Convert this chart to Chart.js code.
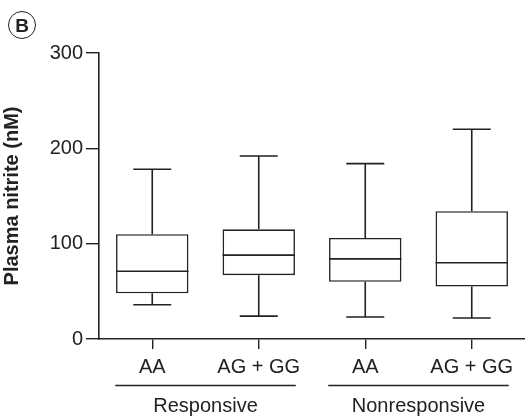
<!DOCTYPE html>
<html>
<head>
<meta charset="utf-8">
<script src="https://cdn.jsdelivr.net/npm/chart.js@4.4.0/dist/chart.umd.min.js"></script>
<style>
body { margin: 0; background: #fff; }
#wrap { position: relative; width: 525px; height: 418px; }
#panel {
    position: absolute; left: 8px; top: 11px; width: 26px; height: 26px;
    border: 1.8px solid #222; border-radius: 50%;
    font: bold 19px "Liberation Sans", Arial, sans-serif; color: #222;
    text-align: center; line-height: 27px;
}
</style>
</head>
<body>
<div id="wrap">
<canvas id="box-canvas" width="525" height="418"></canvas>
<div id="panel">B</div>
</div>
<script>
// values (nM)
var categories = ['AA', 'AG + GG', 'AA', 'AG + GG'];
var groups = ['Responsive', 'Nonresponsive'];
var groupMembers = [[0, 1], [2, 3]];
var whiskerLow = [36, 24, 23, 22];
var q1 = [48, 67, 60, 55];
var median = [71, 88, 84, 80];
var q3 = [110, 115, 106, 134];
var whiskerHigh = [178, 192, 184, 220];
var yTicks = [0, 100, 200, 300];

var ink = '#222';
var fontFam = '"Liberation Sans", Arial, sans-serif';

//whiskers + median on top of the floating bars
var whiskerPlugin = {
    id: 'whiskers',
    afterDatasetsDraw: function (chart) {
        var ctx = chart.ctx;
        var xs = chart.scales.x, ys = chart.scales.y;
        var meta = chart.getDatasetMeta(0);
        ctx.save();
        ctx.strokeStyle = ink;
        ctx.lineWidth = 1.6;
        for (var i = 0; i < categories.length; i++) {
            var x = xs.getPixelForValue(i);
            var half = meta.data[i].width / 2;
            var cap = 19;
            ctx.beginPath();
            ctx.moveTo(x, ys.getPixelForValue(q3[i]));
            ctx.lineTo(x, ys.getPixelForValue(whiskerHigh[i]));
            ctx.moveTo(x - cap, ys.getPixelForValue(whiskerHigh[i]));
            ctx.lineTo(x + cap, ys.getPixelForValue(whiskerHigh[i]));
            ctx.moveTo(x, ys.getPixelForValue(q1[i]));
            ctx.lineTo(x, ys.getPixelForValue(whiskerLow[i]));
            ctx.moveTo(x - cap, ys.getPixelForValue(whiskerLow[i]));
            ctx.lineTo(x + cap, ys.getPixelForValue(whiskerLow[i]));
            ctx.moveTo(x - half, ys.getPixelForValue(median[i]));
            ctx.lineTo(x + half, ys.getPixelForValue(median[i]));
            ctx.stroke();
        }
        ctx.restore();
    }
};

// group lines under the tick labels
var groupPlugin = {
    id: 'groups',
    afterDraw: function (chart) {
        var ctx = chart.ctx;
        var xs = chart.scales.x;
        ctx.save();
        ctx.strokeStyle = ink;
        ctx.lineWidth = 1.4;
        ctx.fillStyle = ink;
        ctx.font = '20px ' + fontFam;
        ctx.textAlign = 'center';
        ctx.textBaseline = 'middle';
        for (var g = 0; g < groups.length; g++) {
            var m = groupMembers[g];
            var x0 = xs.getPixelForValue(m[0]) - 37;
            var x1 = xs.getPixelForValue(m[m.length - 1]) + 37;
            ctx.beginPath();
            ctx.moveTo(x0, 385.5);
            ctx.lineTo(x1, 385.5);
            ctx.stroke();
            ctx.fillText(groups[g], (x0 + x1) / 2, 406);
        }
        ctx.restore();
    }
};

var ctx = document.getElementById('box-canvas').getContext('2d');
var chart_box = new Chart(ctx, {
    type: 'bar',
    data: {
        labels: categories,
        datasets: [{
            data: q1.map(function (v, i) { return [v, q3[i]]; }),
            backgroundColor: '#fff',
            borderColor: ink,
            borderWidth: 1.6,
            borderSkipped: false,
            barPercentage: 0.68,
            categoryPercentage: 1
        }]
    },
    options: {
        responsive: false,
        animation: false,
        layout: { padding: { top: 53, right: -2, bottom: 0, left: 0 } },
        plugins: { legend: { display: false }, tooltip: { enabled: false } },
        scales: {
            x: {
                grid: { display: true, drawOnChartArea: false, drawTicks: true, tickLength: 10, offset: false, color: ink, lineWidth: 1.4 },
                border: { display: true, color: ink, width: 1.6 },
                ticks: { color: ink, font: { family: fontFam, size: 20 }, padding: 6, maxRotation: 0, autoSkip: false },
                afterFit: function (s) { s.height = 418 - 339; }
            },
            y: {
                min: 0, max: 300,
                afterBuildTicks: function (s) { s.ticks = yTicks.map(function (v) { return { value: v }; }); },
                grid: { display: true, drawOnChartArea: false, drawTicks: true, tickLength: 13, color: ink, lineWidth: 1.4 },
                border: { display: true, color: ink, width: 1.6 },
                ticks: { color: ink, font: { family: fontFam, size: 20 }, padding: 3 },
                title: { display: true, text: 'Plasma nitrite (nM)', color: ink, font: { family: fontFam, size: 20, weight: 'bold' }, padding: { top: 0, bottom: 0 } },
                afterFit: function (s) { s.width = 99; }
            }
        }
    },
    plugins: [whiskerPlugin, groupPlugin]
});
</script>
</body>
</html>
